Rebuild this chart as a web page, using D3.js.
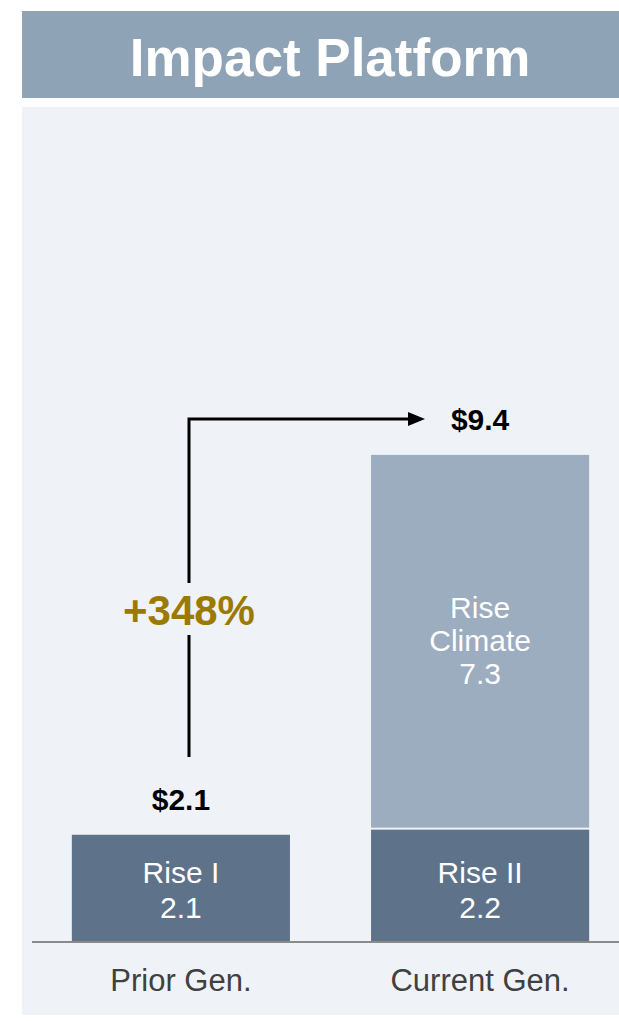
<!DOCTYPE html>
<html>
<head>
<meta charset="utf-8">
<script src="https://cdn.jsdelivr.net/npm/d3@7"></script>
<style>
  html, body { margin: 0; padding: 0; background: #fff; }
  svg { display: block; font-family: "Liberation Sans", Arial, sans-serif; }
</style>
</head>
<body>
<svg id="chart" width="619" height="1021"></svg>
<script>
// ─── Data ────────────────────────────────────────────────────
const title = "Impact Platform";
const categories = ["Prior Gen.", "Current Gen."];
const baseValues = [2.1, 2.2];          // Rise I, Rise II
const baseNames = ["Rise I", "Rise II"];
const topValues = [0, 7.3];             // Rise Climate on current gen only
const topNames = [null, ["Rise", "Climate"]];
const totals = ["$2.1", "$9.4"];
const growthLabel = "+348%";

// ─── Layout ──────────────────────────────────────────────────
const W = 619, H = 1021;
const svg = d3.select("#chart");
const baseY = 942;
const panelFill = "#eff3f7";

svg.append("rect").attr("x", 22).attr("y", 11).attr("width", W - 22).attr("height", 87)
  .attr("fill", "#8fa3b7");
svg.append("text").attr("x", 330).attr("y", 76).attr("text-anchor", "middle")
  .attr("fill", "#fff").attr("font-weight", "bold").attr("font-size", 53)
  .text(title);

svg.append("rect").attr("x", 22).attr("y", 107).attr("width", W - 22).attr("height", 908)
  .attr("fill", panelFill);

const x = d3.scaleBand().domain(categories).range([12, 649]).paddingInner(0.271).paddingOuter(0.2);
const y = d3.scaleLinear().domain([0, 9.4]).range([baseY, baseY - 480]);

const dark = "#5e7389", light = "#9badbf";
const gap = 2;

categories.forEach((c, i) => {
  const bx = x(c), bw = x.bandwidth();
  const top = y(baseValues[i]);
  const cx = bx + bw / 2;

  // base segment
  svg.append("rect").attr("x", bx).attr("y", top).attr("width", bw).attr("height", baseY - top)
    .attr("fill", dark);
  svg.append("text").attr("x", cx).attr("y", 883).attr("text-anchor", "middle")
    .attr("fill", "#fff").attr("font-size", 30).text(baseNames[i]);
  svg.append("text").attr("x", cx).attr("y", 918).attr("text-anchor", "middle")
    .attr("fill", "#fff").attr("font-size", 30).text(baseValues[i].toFixed(1));

  // stacked segment
  if (topValues[i] > 0) {
    const segBottom = top - gap;
    const segTop = y(baseValues[i] + topValues[i]) - gap;
    svg.append("rect").attr("x", bx).attr("y", segTop).attr("width", bw)
      .attr("height", segBottom - segTop).attr("fill", light);
    const mid = (segTop + segBottom) / 2;
    const lines = [...topNames[i], topValues[i].toFixed(1)];
    lines.forEach((t, k) => {
      svg.append("text").attr("x", cx).attr("y", mid - 23 + k * 33)
        .attr("text-anchor", "middle").attr("fill", "#fff").attr("font-size", 30).text(t);
    });
  }

  // total label above
  const totalTop = y(baseValues[i] + topValues[i]) - (topValues[i] > 0 ? gap : 0);
  svg.append("text").attr("x", cx).attr("y", totalTop - 25).attr("text-anchor", "middle")
    .attr("fill", "#000").attr("font-weight", "bold").attr("font-size", 30).text(totals[i]);

  // category label
  svg.append("text").attr("x", cx).attr("y", 991).attr("text-anchor", "middle")
    .attr("fill", "#404040").attr("font-size", 31).text(c);
});

// baseline
svg.append("line").attr("x1", 32).attr("x2", W).attr("y1", baseY).attr("y2", baseY)
  .attr("stroke", "#8a8a8a").attr("stroke-width", 2);

// ─── Growth arrow ────────────────────────────────────────────
const ax = 189, ayBottom = 757, ayTop = 419, axEnd = 408;
svg.append("defs").append("marker").attr("id", "arrow")
  .attr("markerUnits", "userSpaceOnUse")
  .attr("viewBox", "0 0 17 14").attr("refX", 0).attr("refY", 7)
  .attr("markerWidth", 17).attr("markerHeight", 14).attr("orient", "auto")
  .append("path").attr("d", "M0,0L17,7L0,14Z").attr("fill", "#000");

svg.append("path")
  .attr("d", `M${ax},${ayBottom}V${ayTop}H${axEnd}`)
  .attr("fill", "none").attr("stroke", "#000").attr("stroke-width", 3)
  .attr("marker-end", "url(#arrow)");

svg.append("rect").attr("x", ax - 75).attr("y", 583).attr("width", 150).attr("height", 52)
  .attr("fill", panelFill);
svg.append("text").attr("x", ax).attr("y", 625).attr("text-anchor", "middle")
  .attr("fill", "#9c7a00").attr("font-weight", "bold").attr("font-size", 42).text(growthLabel);
</script>
</body>
</html>
